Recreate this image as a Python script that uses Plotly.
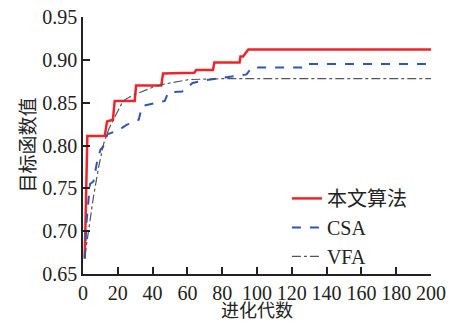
import plotly.graph_objects as go

# 本文算法 (proposed algorithm) – stepwise convergence
gen_ours = [1, 2.5, 12.5, 13.8, 17.2, 18.2, 29.7, 30.5, 45, 46, 64, 65, 74.7, 75.5, 90, 90.5, 92, 95, 200]
val_ours = [0.668, 0.811, 0.811, 0.828, 0.830, 0.852, 0.852, 0.870, 0.870, 0.884, 0.885, 0.888, 0.888, 0.897, 0.897, 0.904, 0.904, 0.912, 0.912]

# CSA
gen_csa = [1, 2, 4, 6, 8, 10, 12, 14, 18, 22, 25, 32, 34, 38, 42, 47, 49, 57, 60, 63, 70, 80, 94, 97, 127, 128, 200]
val_csa = [0.668, 0.710, 0.755, 0.758, 0.780, 0.795, 0.800, 0.813, 0.816, 0.820, 0.824, 0.830, 0.846, 0.848, 0.850, 0.852, 0.862, 0.863, 0.868, 0.873, 0.876, 0.879, 0.883, 0.891, 0.891, 0.895, 0.895]

# VFA
gen_vfa = [1, 3, 6, 9, 12, 15, 19, 23, 28, 33, 40, 45, 52, 61, 80, 200]
val_vfa = [0.670, 0.700, 0.740, 0.775, 0.803, 0.820, 0.836, 0.852, 0.858, 0.862, 0.868, 0.871, 0.874, 0.877, 0.878, 0.878]

x_ticks = [0, 20, 40, 60, 80, 100, 120, 140, 160, 180, 200]
y_ticks = [0.65, 0.70, 0.75, 0.80, 0.85, 0.90, 0.95]

FONT = "'Liberation Serif', 'Times New Roman', 'DejaVu Serif', serif"
CJK = "'Noto Sans CJK SC'"

fig = go.Figure()
fig.add_trace(go.Scatter(x=gen_ours, y=val_ours, mode="lines", name="本文算法",
                         line=dict(color="#f0232b", width=2.5)))
fig.add_trace(go.Scatter(x=gen_csa, y=val_csa, mode="lines", name="CSA",
                         line=dict(color="#2f55b5", width=2, dash="dash")))
fig.add_trace(go.Scatter(x=gen_vfa, y=val_vfa, mode="lines", name="VFA",
                         line=dict(color="#555555", width=1.2, dash="dashdot")))

fig.update_layout(
    width=453, height=324,
    margin=dict(l=83, r=22, t=17, b=50, autoexpand=False),
    paper_bgcolor="white", plot_bgcolor="white",
    font=dict(family=FONT, size=20, color="#222222"),
    showlegend=True,
    legend=dict(x=0.586, y=0.37, xanchor="left", yanchor="top",
                bgcolor="rgba(0,0,0,0)", font=dict(size=20, family="'Liberation Serif', " + CJK),
                itemwidth=30, tracegroupgap=0),
    xaxis=dict(range=[0, 200], tickvals=x_ticks, ticktext=[str(v) for v in x_ticks],
               showgrid=False, zeroline=False, showline=True, linecolor="#222222", linewidth=1.5,
               ticks="inside", ticklen=7, tickwidth=1.5, tickcolor="#222222", automargin=False,
               tickfont=dict(family=FONT, size=20)),
    yaxis=dict(range=[0.65, 0.95], tickvals=y_ticks, ticktext=[f"{v:.2f}" for v in y_ticks],
               showgrid=False, zeroline=False, showline=True, linecolor="#222222", linewidth=1.5,
               ticks="inside", ticklen=7, tickwidth=1.5, tickcolor="#222222", automargin=False,
               tickfont=dict(family=FONT, size=20)),
    annotations=[
        dict(text="进化代数", xref="paper", yref="paper", x=0.5, y=0, xanchor="center", yanchor="bottom",
             yshift=-49, showarrow=False, borderpad=0, font=dict(family=CJK, size=18, color="#222222")),
        dict(text="目标函数值", xref="paper", yref="paper", x=0, y=0.5, xanchor="center", yanchor="middle",
             xshift=-57, textangle=-90, showarrow=False, font=dict(family=CJK, size=19, color="#222222")),
    ],
)

fig.write_html("out.html", config={"displayModeBar": False},
               post_script="document.body.style.margin='0';")
